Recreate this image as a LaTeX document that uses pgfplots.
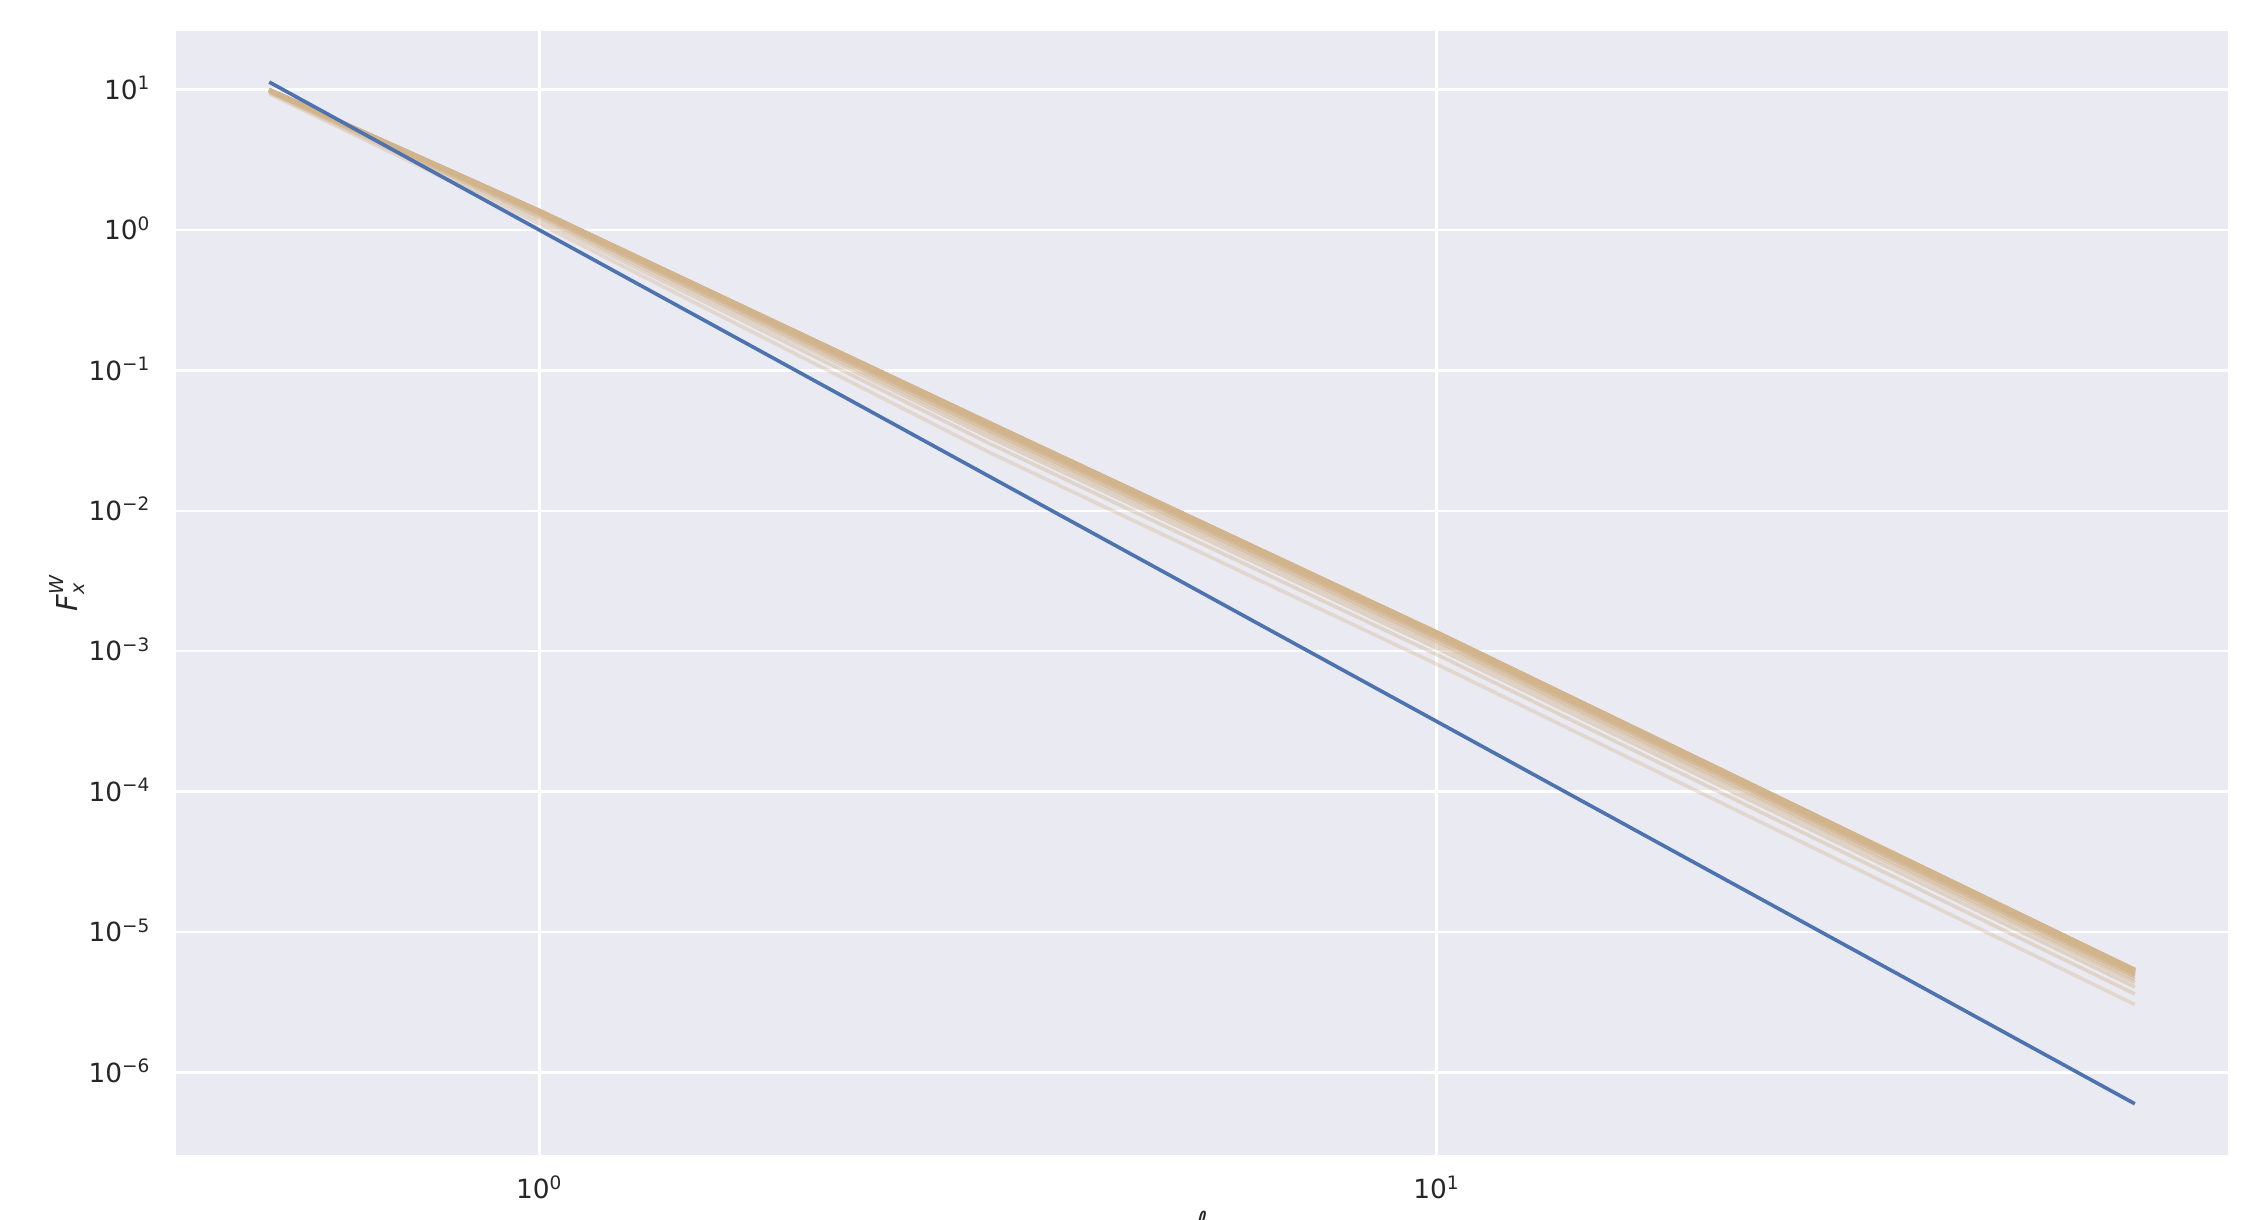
\documentclass[border=0pt]{standalone}
\usepackage{fontspec}
\setmainfont{DejaVu Sans}
\usepackage{amsmath}
\usepackage{pgfplots}
\usepackage{pgfplotstable}
\pgfplotsset{compat=1.18}
\definecolor{sbbg}{HTML}{EAEAF2}
\definecolor{sbblue}{HTML}{4C72B0}
\definecolor{sbtan}{RGB}{210,180,140}
\definecolor{sbtext}{HTML}{262626}

\pgfplotstableread{
x l1 l2 l3 l4 l5 l6 l7 l8 l9 l10 l11 l12 l13 l14 l15 l16
0.5 9.333 9.528 9.660 9.748 9.808 9.856 9.890 9.917 9.938 9.955 9.969 9.979 9.986 9.993 9.997 10.0
1 1.109 1.1836 1.2359 1.2712 1.2962 1.3160 1.3303 1.3419 1.3506 1.3580 1.3639 1.3683 1.3713 1.3742 1.3760 1.3772
3.1623 0.026366 0.030522 0.033652 0.035856 0.037467 0.038769 0.039726 0.040510 0.041108 0.041613 0.042021 0.042329 0.042537 0.042745 0.042870 0.042954
10 8.091e-4 9.478e-4 1.0532e-3 1.1279e-3 1.1827e-3 1.2272e-3 1.2600e-3 1.2868e-3 1.3074e-3 1.3247e-3 1.3388e-3 1.3494e-3 1.3565e-3 1.3637e-3 1.3680e-3 1.3709e-3
60 3.0477e-6 3.6200e-6 4.0598e-6 4.3739e-6 4.6055e-6 4.7941e-6 4.9335e-6 5.0480e-6 5.1356e-6 5.2097e-6 5.2698e-6 5.3153e-6 5.3459e-6 5.3766e-6 5.3951e-6 5.4075e-6
}\fam

\pgfplotstableread{
x y
0.5 11.3137
60 5.977e-7
}\blue

\begin{document}
\begin{tikzpicture}
\begin{axis}[
  name=ax, at={(0,0)}, anchor=south west,
  scale only axis, width=855pt, height=468.3pt,
  xmode=log, ymode=log,
  xmin=0.3936, xmax=76.2, ymin=2.585e-7, ymax=26.16,
  axis background/.style={fill=sbbg},
  axis line style={draw=none},
  tick style={draw=none},
  major tick length=0pt, minor tick num=0,
  grid=major,
  major grid style={white, line width=1pt},
  xtick={1,10},
  xticklabels={10\textsuperscript{0},10\textsuperscript{1}},
  ytick={1e-6,1e-5,1e-4,1e-3,1e-2,1e-1,1,10},
  yticklabels={10\textsuperscript{−6},10\textsuperscript{−5},10\textsuperscript{−4},10\textsuperscript{−3},10\textsuperscript{−2},10\textsuperscript{−1},10\textsuperscript{0},10\textsuperscript{1}},
  ticklabel style={font=\fontsize{11}{13}\selectfont, text=sbtext},
  yticklabel style={anchor=base east, xshift=-7.0pt, yshift=-4pt},
  xticklabel style={anchor=base, yshift=-18.3pt},
  ylabel={$\textit{F}^{\textit{W}}_{\textit{x}}$},
  every axis y label/.style={at={(axis description cs:-0.0531,0.5)}, rotate=90, anchor=center, font=\fontsize{12}{14}\selectfont, text=sbtext},
  xlabel={\textit{ℓ}},
  every axis x label/.style={at={(axis description cs:0.5,0)}, anchor=north, yshift=-20pt, font=\fontsize{12}{14}\selectfont, text=sbtext},
  every axis plot/.append style={line width=1.5pt, line join=round},
]
\addplot[sbtan, opacity=0.35, no marks] table[x=x,y=l1]{\fam};
\addplot[sbtan, opacity=0.40, no marks] table[x=x,y=l2]{\fam};
\addplot[sbtan, opacity=0.45, no marks] table[x=x,y=l3]{\fam};
\addplot[sbtan, opacity=0.50, no marks] table[x=x,y=l4]{\fam};
\addplot[sbtan, opacity=0.55, no marks] table[x=x,y=l5]{\fam};
\addplot[sbtan, opacity=0.60, no marks] table[x=x,y=l6]{\fam};
\addplot[sbtan, opacity=0.65, no marks] table[x=x,y=l7]{\fam};
\addplot[sbtan, opacity=0.70, no marks] table[x=x,y=l8]{\fam};
\addplot[sbtan, opacity=0.74, no marks] table[x=x,y=l9]{\fam};
\addplot[sbtan, opacity=0.78, no marks] table[x=x,y=l10]{\fam};
\addplot[sbtan, opacity=0.82, no marks] table[x=x,y=l11]{\fam};
\addplot[sbtan, opacity=0.86, no marks] table[x=x,y=l12]{\fam};
\addplot[sbtan, opacity=0.90, no marks] table[x=x,y=l13]{\fam};
\addplot[sbtan, opacity=0.93, no marks] table[x=x,y=l14]{\fam};
\addplot[sbtan, opacity=0.96, no marks] table[x=x,y=l15]{\fam};
\addplot[sbtan, opacity=1.00, no marks] table[x=x,y=l16]{\fam};
\addplot[sbblue, no marks] table[x=x,y=y]{\blue};
\end{axis}
\pgfresetboundingbox
\path[use as bounding box] ([shift={(-73.3pt,-27.1pt)}]ax.south west) rectangle ([shift={(6.7pt,12.9pt)}]ax.north east);
\end{tikzpicture}
\end{document}
